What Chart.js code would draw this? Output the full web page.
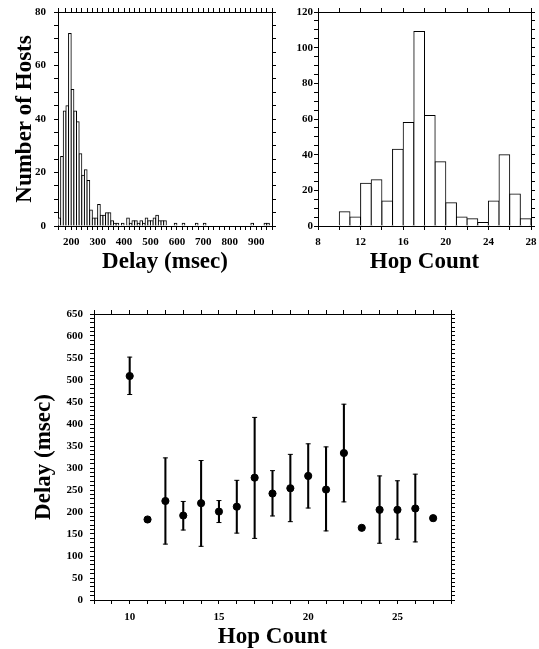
<!DOCTYPE html>
<html>
<head>
<meta charset="utf-8">
<script src="https://cdn.jsdelivr.net/npm/chart.js@4.4.1/dist/chart.umd.min.js"></script>
<style>
  html, body { margin: 0; padding: 0; background: #fff; }
  body { width: 539px; height: 649px; position: relative; overflow: hidden; }
  canvas { position: absolute; }
</style>
</head>
<body>
<canvas id="delayHist" width="278" height="275" style="left:0;top:0"></canvas>
<canvas id="hopHist" width="261" height="275" style="left:278px;top:0"></canvas>
<canvas id="delayByHop" width="539" height="354" style="left:0;top:295px"></canvas>
<script>
// ===== DATA =====
// delay histogram: 10 ms bins starting at 150 ms
const delayBinStart = 150;
const delayBinWidth = 10;
const delayCounts = [
  3, 26, 43, 45, 72, 51, 43, 39, 27, 19,   // 150-249
  21, 17, 6, 3, 3, 8, 4, 4, 5, 5,          // 250-349
  2, 1, 1, 0, 1, 0, 3, 1, 2, 2,            // 350-449
  1, 2, 1, 3, 2, 2, 3, 4, 2, 2,            // 450-549
  2, 0, 0, 0, 1, 0, 0, 1, 0, 0,            // 550-649
  0, 0, 1, 0, 0, 1, 0, 0, 0, 0,            // 650-749
  0, 0, 0, 0, 0, 0, 0, 0, 0, 0,            // 750-849
  0, 0, 0, 1, 0, 0, 0, 0, 1, 1,            // 850-949
  0                                        // 950-959
];
const delayTickLabels = [200, 300, 400, 500, 600, 700, 800, 900];
const hostTickLabels = [0, 20, 40, 60, 80];

// hop count histogram (bin = [hop, hop+1))
const hopBins = [10, 11, 12, 13, 14, 15, 16, 17, 18, 19, 20, 21, 22, 23, 24, 25, 26, 27];
const hopCounts = [8, 5, 24, 26, 14, 43, 58, 109, 62, 36, 13, 5, 4, 2, 14, 40, 18, 4];
const hopTickLabels = [8, 12, 16, 20, 24, 28];
const hopHostTickLabels = [0, 20, 40, 60, 80, 100, 120];

// mean delay per hop count, with error bar ends
const hops = [10, 11, 12, 13, 14, 15, 16, 17, 18, 19, 20, 21, 22, 23, 24, 25, 26, 27];
const meanDelay = [509, 183, 225, 192, 220, 201, 212, 278, 242, 254, 282, 251, 334, 164, 205, 205, 208, 186];
const errLow  = [467, null, 127, 159, 122, 176, 152, 140, 191, 178, 209, 157, 223, null, 129, 138, 132, null];
const errHigh = [552, null, 323, 224, 317, 226, 272, 415, 294, 331, 355, 348, 445, null, 282, 271, 286, null];
const scatterHopLabels = [10, 15, 20, 25];
const delayAxisLabels = [0, 50, 100, 150, 200, 250, 300, 350, 400, 450, 500, 550, 600, 650];

// ===== STYLE HELPERS =====
const FONT = "'Liberation Serif', 'Times New Roman', serif";
const tickFont = { family: FONT, size: 11, weight: 'bold' };
const titleFont = { family: FONT, size: 23, weight: 'bold', lineHeight: 1.05 };

Chart.defaults.animation = false;
Chart.defaults.events = [];
Chart.defaults.color = '#000';

// pin every axis box to a fixed size so the plot frames line up with the picture
function fixSize(size) {
  return scale => {
    if (scale.isHorizontal()) {
      scale.height = size;
      scale.paddingLeft = 0;
      scale.paddingRight = 0;
    } else {
      scale.width = size;
      scale.paddingTop = 0;
      scale.paddingBottom = 0;
    }
  };
}

// one side of the frame; labels = null gives a bare tick axis (mirror side)
function axis(position, min, max, step, labels, size, pad) {
  return {
    type: 'linear', position, min, max, offset: false,
    afterFit: fixSize(size),
    border: { display: true, color: '#000', width: 1 },
    grid: { drawOnChartArea: false, drawTicks: true, tickLength: 4, tickColor: '#000', offset: false },
    ticks: {
      display: !!labels, stepSize: step, autoSkip: false, maxRotation: 0, padding: pad || 3,
      color: '#000', font: tickFont,
      callback: v => (labels && labels.includes(v) ? v : '')
    }
  };
}

function axisTitle(text, pad) {
  return { display: true, text, color: '#000', font: titleFont, padding: pad };
}

const baseOptions = {
  responsive: false,
  layout: { padding: 0 },
  plugins: { legend: { display: false }, tooltip: { enabled: false } }
};

// ===== DELAY HISTOGRAM =====
function initDelayHist() {
  const x = axis('bottom', 150, 960, 20, delayTickLabels, 49, 6);
  x.title = axisTitle('Delay (msec)', { top: 0, bottom: 1 });
  const y = axis('left', 0, 80, 5, hostTickLabels, 58, 8);
  y.title = axisTitle('Number of Hosts', { top: 13, bottom: 0 });
  new Chart(document.getElementById('delayHist'), {
    type: 'bar',
    data: {
      datasets: [{
        data: delayCounts.map((c, i) => ({ x: delayBinStart + delayBinWidth * (i + 0.5), y: c })),
        backgroundColor: '#fff',
        borderColor: '#000',
        borderWidth: 1,
        inflateAmount: 0.5,
        barPercentage: 1,
        categoryPercentage: 1
      }]
    },
    options: Object.assign({}, baseOptions, {
      scales: {
        x, y,
        x2: axis('top', 150, 960, 20, null, 12),
        y2: axis('right', 0, 80, 5, null, 6)
      }
    })
  });
}

// ===== HOP COUNT HISTOGRAM =====
function initHopHist() {
  const x = axis('bottom', 8, 28, 2, hopTickLabels, 49, 6);
  x.title = axisTitle('Hop Count', { top: 0, bottom: 1 });
  new Chart(document.getElementById('hopHist'), {
    type: 'bar',
    data: {
      datasets: [{
        data: hopBins.map((h, i) => ({ x: h + 0.5, y: hopCounts[i] })),
        backgroundColor: '#fff',
        borderColor: '#000',
        borderWidth: 1,
        inflateAmount: 0.5,
        barPercentage: 1,
        categoryPercentage: 1
      }]
    },
    options: Object.assign({}, baseOptions, {
      scales: {
        x,
        y: axis('left', 0, 120, 5, hopHostTickLabels, 40, 1),
        x2: axis('top', 8, 28, 2, null, 12),
        y2: axis('right', 0, 120, 5, null, 8)
      }
    })
  });
}

// ===== DELAY vs HOP COUNT =====
function initScatter() {
  const withErr = hops.map((h, i) => i).filter(i => errLow[i] !== null);
  const x = axis('bottom', 8, 28, 1, scatterHopLabels, 49, 7);
  x.title = axisTitle('Hop Count', { top: 0, bottom: 0 });
  const y = axis('left', 0, 650, 10, delayAxisLabels, 94, 7);
  y.title = axisTitle('Delay (msec)', { top: 32, bottom: 0 });
  new Chart(document.getElementById('delayByHop'), {
    type: 'scatter',
    data: {
      datasets: [
        {
          // mean delay
          data: hops.map((h, i) => ({ x: h, y: meanDelay[i] })),
          backgroundColor: '#000',
          borderColor: '#000',
          pointRadius: 3.6,
          order: 0
        },
        {
          // error bar caps
          data: withErr.map(i => ({ x: hops[i], y: errLow[i] }))
            .concat(withErr.map(i => ({ x: hops[i], y: errHigh[i] }))),
          pointStyle: 'line',
          pointRadius: 2.5,
          borderWidth: 1,
          borderColor: '#000',
          order: 1
        },
        {
          // error bar stems
          type: 'bar',
          data: withErr.map(i => ({ x: hops[i], y: [errLow[i], errHigh[i]] })),
          backgroundColor: '#000',
          borderWidth: 0,
          barThickness: 1.4,
          order: 2
        }
      ]
    },
    options: Object.assign({}, baseOptions, {
      scales: {
        x, y,
        x2: axis('top', 8, 28, 1, null, 19),
        y2: axis('right', 0, 650, 10, null, 88)
      }
    })
  });
}

initDelayHist();
initHopHist();
initScatter();
</script>
</body>
</html>
